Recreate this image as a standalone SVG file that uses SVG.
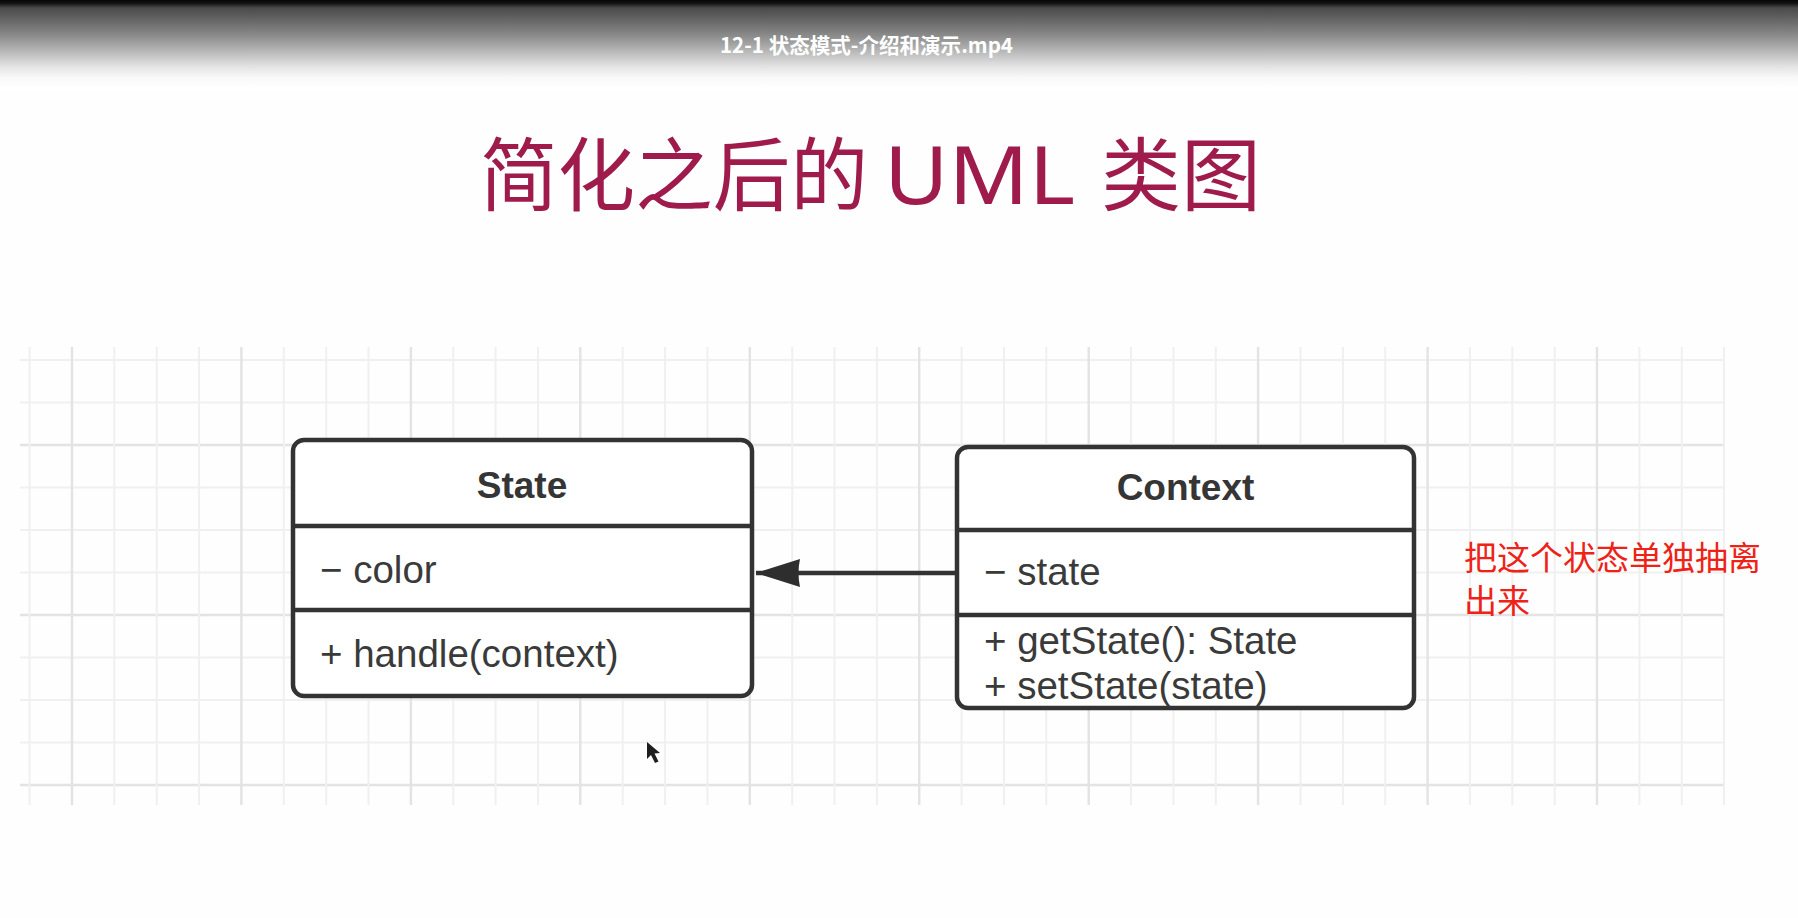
<svg xmlns="http://www.w3.org/2000/svg" width="1798" height="918" viewBox="0 0 1798 918">
<defs>
<linearGradient id="bar" x1="0" y1="0" x2="0" y2="88" gradientUnits="userSpaceOnUse">
<stop offset="0" stop-color="#050505"/>
<stop offset="0.04" stop-color="#151515"/>
<stop offset="0.09" stop-color="#4a4a4a"/>
<stop offset="0.18" stop-color="#5c5c5c"/>
<stop offset="0.4" stop-color="#8a8a8a"/>
<stop offset="0.6" stop-color="#bcbcbc"/>
<stop offset="0.75" stop-color="#e2e2e2"/>
<stop offset="0.88" stop-color="#f8f8f8"/>
<stop offset="1" stop-color="#ffffff"/>
</linearGradient>
<marker id="block" markerUnits="userSpaceOnUse" markerWidth="46" markerHeight="30" refX="44" refY="15" orient="auto">
<path d="M0,1 L44,15 L0,29 Q3,15 0,1 Z" fill="#2e2e2e"/>
</marker>
</defs>
<style>
.gmin{stroke:#f0f0f0;stroke-width:2;fill:none}
.gmaj{stroke:#e3e3e3;stroke-width:2.4;fill:none}
.box{fill:#ffffff;stroke:#333333;stroke-width:4.5}
.div{stroke:#333333;stroke-width:4.5}
.hdr{font-family:"Liberation Sans","Noto Sans",Arial,sans-serif;font-weight:bold;font-size:37px;fill:#353535;text-anchor:middle}
.mem{font-family:"Liberation Sans","Noto Sans",Arial,sans-serif;font-size:38.5px;fill:#3a3a3a}
.conn{stroke:#333333;stroke-width:4.5;fill:none}
</style>
<rect x="0" y="0" width="1798" height="918" fill="#fefefe"/>
<g id="header-bar">
<rect x="0" y="0" width="1798" height="90" fill="url(#bar)"/>
<text x="720" y="53" font-family="'Noto Sans CJK SC','Liberation Sans',sans-serif" font-weight="bold" font-size="21" fill="#ffffff" textLength="293" lengthAdjust="spacingAndGlyphs">12-1 状态模式-介绍和演示.mp4</text>
</g>
<g id="title" font-family="'Noto Sans CJK SC','Noto Sans',sans-serif" font-size="80" fill="#9e1b4b">
<text x="480" y="204" textLength="388" lengthAdjust="spacingAndGlyphs">简化之后的</text>
<text x="884" y="204" font-family="'Noto Sans','Noto Sans CJK SC',sans-serif" textLength="191" lengthAdjust="spacingAndGlyphs">UML</text>
<text x="1101" y="204" textLength="160" lengthAdjust="spacingAndGlyphs">类图</text>
</g>
<g id="grid">
<path class="gmin" d="M20,360H1725M20,402.5H1725M20,487.5H1725M20,530H1725M20,572.5H1725M20,657.5H1725M20,700H1725M20,742.5H1725"/>
<path class="gmaj" d="M20,445H1725M20,615H1725M20,785H1725"/>
<path class="gmin" d="M29.6,347V805M114.3,347V805M156.7,347V805M199.1,347V805M283.8,347V805M326.2,347V805M368.5,347V805M453.3,347V805M495.6,347V805M538,347V805M622.7,347V805M665.1,347V805M707.4,347V805M792.2,347V805M834.5,347V805M876.9,347V805M961.6,347V805M1004,347V805M1046.3,347V805M1131,347V805M1173.4,347V805M1215.8,347V805M1300.5,347V805M1342.9,347V805M1385.2,347V805M1469.9,347V805M1512.3,347V805M1554.7,347V805M1639.4,347V805M1681.8,347V805M1724,347V805"/>
<path class="gmaj" d="M72,347V805M241.4,347V805M410.9,347V805M580.3,347V805M749.8,347V805M919.2,347V805M1088.7,347V805M1258.1,347V805M1427.6,347V805M1597,347V805"/>
</g>
<g id="node-state">
<rect class="box" x="293" y="440" width="459" height="256" rx="11"/>
<line class="div" x1="293" y1="526" x2="752" y2="526"/>
<line class="div" x1="293" y1="610" x2="752" y2="610"/>
<text class="hdr" x="522" y="498">State</text>
<text class="mem" x="320" y="583">− color</text>
<text class="mem" x="320" y="667">+ handle(context)</text>
</g>
<g id="node-context">
<rect class="box" x="957" y="447" width="457" height="261" rx="11"/>
<line class="div" x1="957" y1="530" x2="1414" y2="530"/>
<line class="div" x1="957" y1="615" x2="1414" y2="615"/>
<text class="hdr" x="1185.5" y="500">Context</text>
<text class="mem" x="984" y="585">− state</text>
<text class="mem" x="984" y="654">+ getState(): State</text>
<text class="mem" x="984" y="699">+ setState(state)</text>
</g>
<g id="connectors">
<line class="conn" x1="957" y1="573" x2="756" y2="573" marker-end="url(#block)"/>
</g>
<g id="note" font-family="'Noto Sans CJK SC','Noto Sans',sans-serif" font-size="33" fill="#ee2216">
<text x="1464" y="570">把这个状态单独抽离</text>
<text x="1464" y="613">出来</text>
</g>
<g id="cursor">
<path d="M647,742 L647,759 L651,755 L655,763 L658.5,761.5 L654.5,753.5 L660,753 Z" fill="#1e1e1e"/>
</g>
</svg>
